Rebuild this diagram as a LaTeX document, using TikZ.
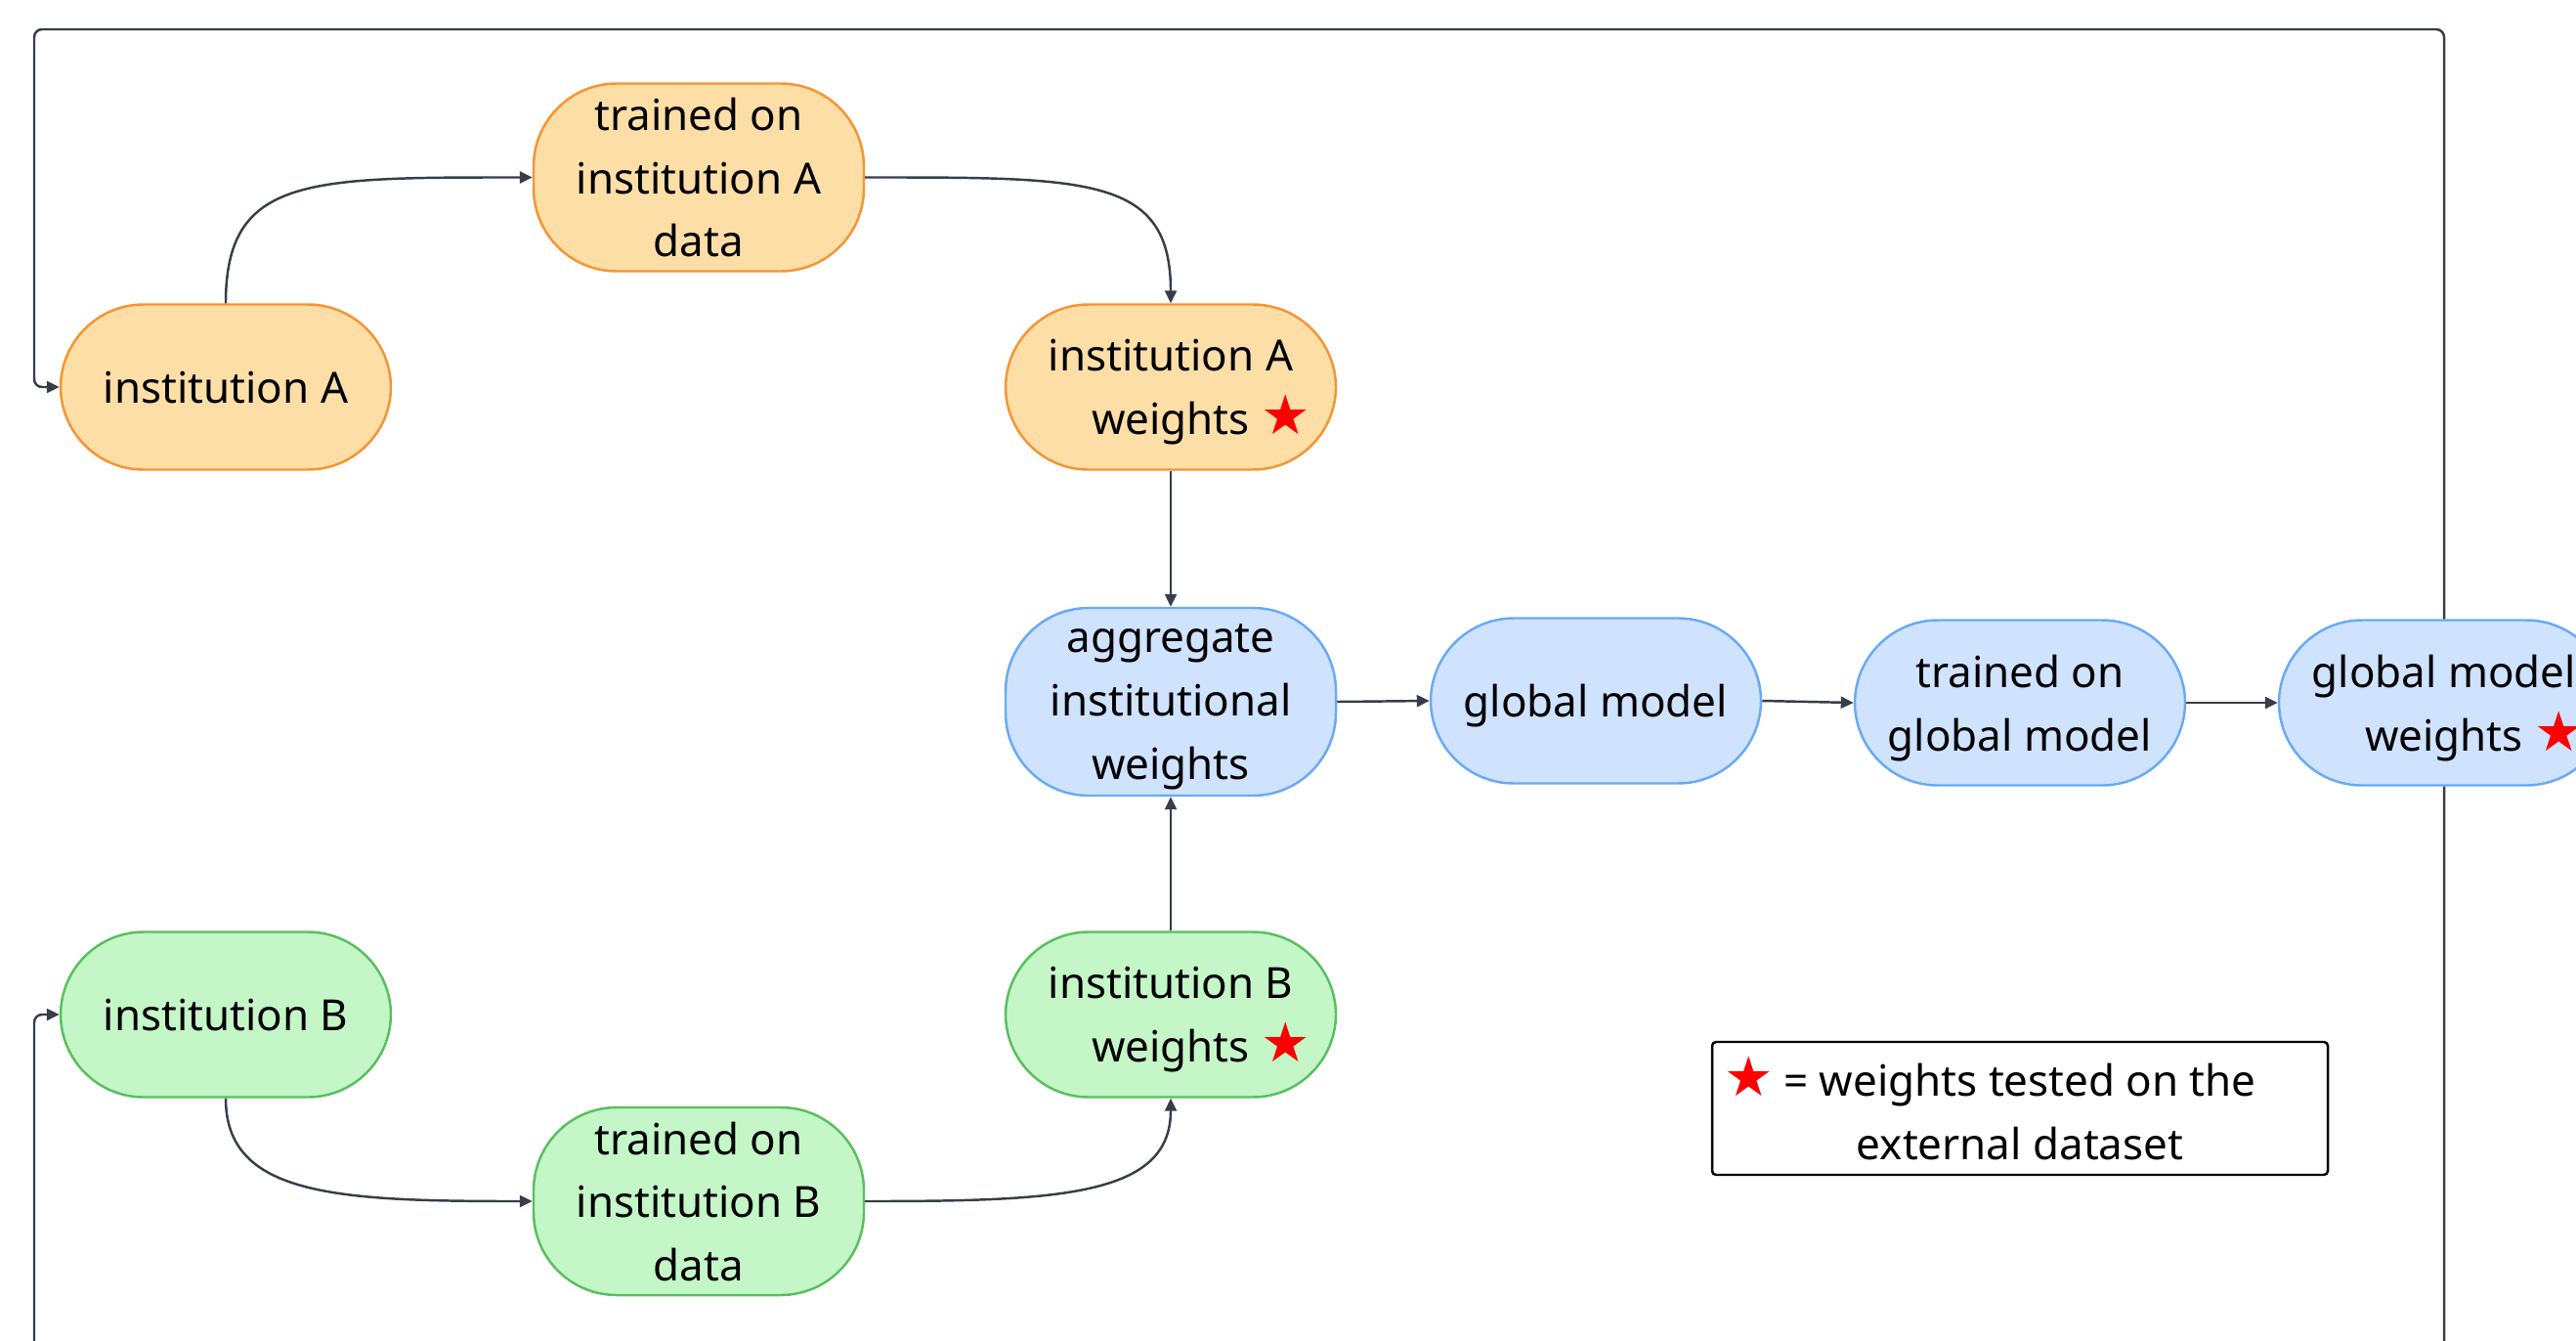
\documentclass[tikz,border=0pt]{standalone}
\usepackage{fontspec}
\setmainfont{Noto Sans}
\newfontfamily\starfont{DejaVu Sans}
\usetikzlibrary{arrows.meta}
\definecolor{orangefill}{RGB}{253,222,167}
\definecolor{orangeline}{RGB}{246,148,50}
\definecolor{bluefill}{RGB}{207,226,254}
\definecolor{blueline}{RGB}{104,170,245}
\definecolor{greenfill}{RGB}{196,246,200}
\definecolor{greenline}{RGB}{88,192,92}
\definecolor{linkgray}{RGB}{55,62,74}
\newcommand{\redstar}{{\starfont\fontsize{16}{16}\selectfont\color{red}★}}
\newcommand{\starafter}{\rlap{\hspace{0.12cm}\redstar}}
\tikzset{
	box/.style={rectangle, rounded corners=0.85cm, line width=0.7pt, minimum width=3.38cm, minimum height=1.69cm, inner ysep=0pt, text depth=0pt, align=center, font=\fontsize{12.5}{18.4}\selectfont},
	boxA/.style={box, draw=orangeline, fill=orangefill},
	boxB/.style={box, draw=greenline, fill=greenfill},
	boxG/.style={box, draw=blueline, fill=bluefill},
	link/.style={draw=linkgray, line width=0.7pt, -{Triangle[length=1.3mm,width=1.2mm]}}
}

\begin{document}
\begin{tikzpicture}
				\path[use as bounding box, clip] (0,0) rectangle (26.36,-13.71);
				
				\node[boxA] (instA) at (2.31,-3.96) {institution A};
				\node[boxA, minimum height=1.92cm] (trainA) at (7.15,-1.815) {trained on\\institution A\\data};
				\node[boxA] (wA) at (11.98,-3.96) {institution A\\weights\starafter};
				
				\node[boxG, minimum height=1.92cm] (agg) at (11.98,-7.18) {aggregate\\institutional\\weights};
				\node[boxG] (glob) at (16.33,-7.17) {global model};
				\node[boxG] (trainG) at (20.67,-7.19) {trained on\\global model};
				\node[boxG] (wG) at (25.01,-7.19) {global model\\weights\starafter};
				
				\node[boxB] (instB) at (2.31,-10.38) {institution B};
				\node[boxB, minimum height=1.92cm] (trainB) at (7.15,-12.29) {trained on\\institution B\\data};
				\node[boxB] (wB) at (11.98,-10.38) {institution B\\weights\starafter};
				
				\node[draw=black, line width=0.7pt, rounded corners=0.04cm, fill=white, minimum width=6.30cm, minimum height=1.36cm, align=center, font=\fontsize{12.5}{18.4}\selectfont] (legend) at (20.67,-11.34) {\llap{\redstar\hspace{0.1cm}}= weights tested on the\\external dataset};
				
				\draw[link] (instA.north) .. controls +(0,1.3) and +(-2.3,0) .. (trainA.west);
				\draw[link] (trainA.east) .. controls +(2.3,0) and +(0,1.3) .. (wA.north);
				\draw[link] (wA.south) -- (agg.north);
				\draw[link] (wB.north) -- (agg.south);
				\draw[link] (agg.east) -- (glob.west);
				\draw[link] (glob.east) -- (trainG.west);
				\draw[link] (trainG.east) -- (wG.west);
				\draw[link] (instB.south) .. controls +(0,-1.0) and +(-2.0,0) .. (trainB.west);
				\draw[link] (trainB.east) .. controls +(2.0,0) and +(0,-1.0) .. (wB.south);
				
				\coordinate (topleft) at (0.35,-0.30);
				\coordinate (botleft) at (0.35,-14.20);
				\draw[link, rounded corners=0.08cm] (wG.north) |- (topleft) |- (instA.west);
				\draw[link, rounded corners=0.08cm] (wG.south) |- (botleft) |- (instB.west);
\end{tikzpicture}
\end{document}
